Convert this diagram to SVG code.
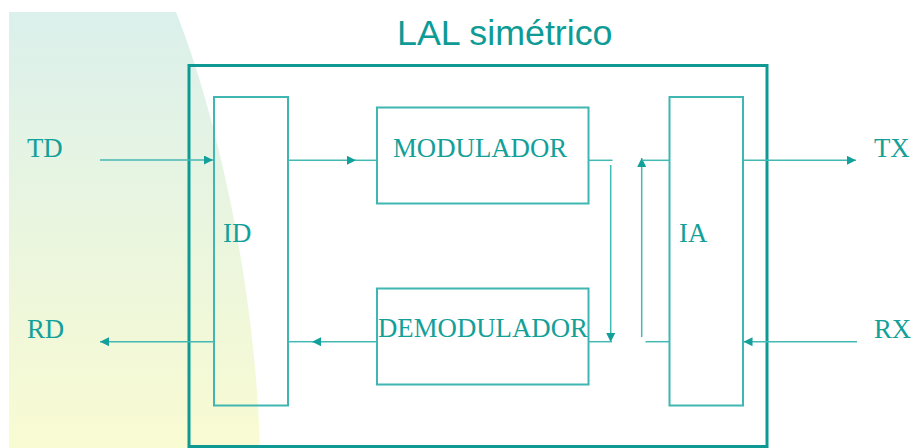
<svg xmlns="http://www.w3.org/2000/svg" width="913" height="448" viewBox="0 0 913 448">
<defs>
<linearGradient id="bg" x1="0" y1="0" x2="0" y2="1">
<stop offset="0" stop-color="#dbf0ec"/>
<stop offset="1" stop-color="#f9fbd2"/>
</linearGradient>
<marker id="ah" viewBox="0 0 10 10" refX="10" refY="5" markerWidth="6" markerHeight="6" markerUnits="strokeWidth" orient="auto">
<path d="M0,0 L10,5 L0,10 Z" fill="#14a09a"/>
</marker>
</defs>
<style>
.box{fill:none;stroke:#3fb6b1;stroke-width:2}
.ln{fill:none;stroke:#44b9b4;stroke-width:1.5}
.lbl{font-family:"Liberation Serif","Times New Roman",serif;font-size:26.8px;fill:#13a099}
.title{font-family:"Liberation Sans",Arial,sans-serif;font-size:35.8px;fill:#0e9b95}
</style>
<path d="M9,12 L176,12 C215,110 255,280 260,448 L9,448 Z" fill="url(#bg)"/>
<text class="title" x="397" y="45">LAL simétrico</text>
<g id="frame"><rect x="189" y="65.5" width="578" height="381" fill="none" stroke="#0e9a93" stroke-width="3"/></g>
<g id="ID"><rect class="box" x="214" y="97" width="74" height="308.5"/><text class="lbl" x="223" y="242">ID</text></g>
<g id="IA"><rect class="box" x="669.5" y="97" width="73.5" height="308.5"/><text class="lbl" x="679" y="242">IA</text></g>
<g id="MODULADOR"><rect class="box" x="377" y="107.5" width="211.5" height="96"/><text class="lbl" x="393" y="157">MODULADOR</text></g>
<g id="DEMODULADOR"><rect class="box" x="377" y="288.5" width="211.5" height="96"/><text class="lbl" x="378" y="337">DEMODULADOR</text></g>
<g id="TD"><text class="lbl" x="27" y="157">TD</text></g>
<g id="RD"><text class="lbl" x="27" y="338">RD</text></g>
<g id="TX"><text class="lbl" x="874" y="157">TX</text></g>
<g id="RX"><text class="lbl" x="874" y="338">RX</text></g>
<g id="connectors">
<line class="ln" x1="100" y1="160" x2="213" y2="160" marker-end="url(#ah)"/>
<line class="ln" x1="214" y1="341.7" x2="100" y2="341.7" marker-end="url(#ah)"/>
<line class="ln" x1="288" y1="160.3" x2="356" y2="160.3" marker-end="url(#ah)"/>
<line class="ln" x1="355" y1="160.3" x2="377" y2="160.3"/>
<line class="ln" x1="377" y1="341.7" x2="312" y2="341.7" marker-end="url(#ah)"/>
<line class="ln" x1="313" y1="341.7" x2="288" y2="341.7"/>
<line class="ln" x1="588.5" y1="160.3" x2="612.5" y2="160.3"/>
<line class="ln" x1="610.7" y1="165" x2="610.7" y2="342" marker-end="url(#ah)"/>
<line class="ln" x1="588.5" y1="341.7" x2="612" y2="341.7"/>
<line class="ln" x1="641.7" y1="337" x2="641.7" y2="158" marker-end="url(#ah)"/>
<line class="ln" x1="642.5" y1="160.3" x2="669.5" y2="160.3"/>
<line class="ln" x1="645.5" y1="341.7" x2="669.5" y2="341.7"/>
<line class="ln" x1="743" y1="160.3" x2="856" y2="160.3" marker-end="url(#ah)"/>
<line class="ln" x1="857" y1="341.7" x2="743.5" y2="341.7" marker-end="url(#ah)"/>
</g>
</svg>
